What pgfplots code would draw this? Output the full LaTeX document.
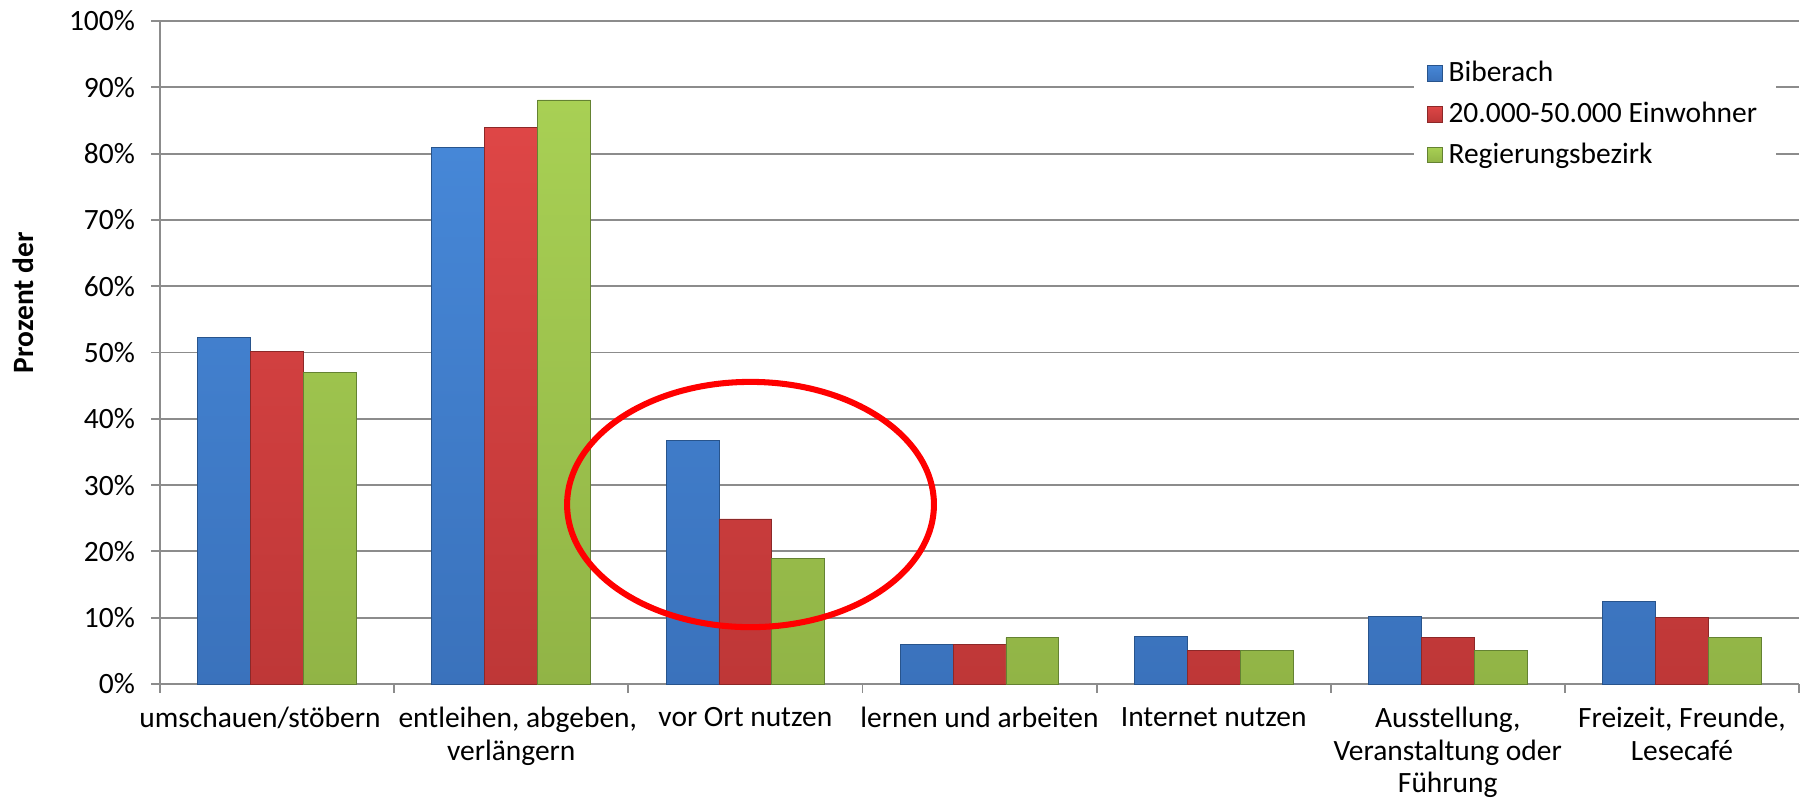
\documentclass[border=0pt]{standalone}
\usepackage{fontspec}
\setmainfont{Carlito}
\usepackage{pgfplots}
\pgfplotsset{compat=1.18}
\usetikzlibrary{calc}
\definecolor{bbluet}{RGB}{70,135,215}
\definecolor{bblueb}{RGB}{58,114,188}
\definecolor{bblued}{RGB}{40,84,140}
\definecolor{bredt}{RGB}{222,70,70}
\definecolor{bredb}{RGB}{190,55,55}
\definecolor{bredd}{RGB}{140,40,40}
\definecolor{bgrnt}{RGB}{168,208,84}
\definecolor{bgrnb}{RGB}{145,180,70}
\definecolor{bgrnd}{RGB}{100,130,50}
\definecolor{gridgray}{RGB}{140,140,140}
\begin{document}
\begin{tikzpicture}
\begin{axis}[
  scale only axis, width=622.8pt, height=251.9pt,
  ybar=0pt, bar width=20.1pt,
  xmin=-0.5, xmax=6.5, ymin=0, ymax=100,
  xtick={0,...,6},
  xticklabels={{\kern-13pt umschauen/stöbern},{entleihen, abgeben,\kern-5pt\\verlängern},{vor Ort nutzen},{lernen und arbeiten},{Internet nutzen},{Ausstellung,\\Veranstaltung oder\\Führung},{Freizeit, Freunde,\\Lesecafé}},
  minor xtick={-0.5,0.5,...,6.5},
  ytick={0,10,...,100},
  yticklabel={\pgfmathprintnumber{\tick}\%},
  /pgf/number format/assume math mode=true,
  axis x line*=bottom, axis y line*=left,
  ymajorgrids, grid style={gridgray, line width=0.7pt},
  tick align=outside, major tick length=3.4pt, minor tick length=3.4pt,
  major x tick style={draw=none},
  minor x tick style={gridgray, line width=0.7pt},
  major y tick style={gridgray, line width=0.7pt},
  axis line style={gridgray, line width=0.7pt},
  ticklabel style={font=\fontsize{11.2}{12.3}\selectfont},
  xticklabel style={align=center, yshift=-2pt},
  yticklabel style={xshift=-2.6pt},
  ylabel={Prozent der},
  ylabel style={font=\fontsize{11.2}{12.5}\selectfont\bfseries, at={(axis description cs:-0.0836,0.575)}, anchor=center, rotate=0},
  legend style={at={(0.7645,0.964)}, anchor=north west, draw=none, fill=white,
    font=\fontsize{11.2}{12.5}\selectfont, inner xsep=5pt, inner ysep=4pt, row sep=2.2pt,
    cells={anchor=west}},
  legend image code/.code={\fill[#1] (0pt,-3pt) rectangle (6pt,3pt);},
  clip=false,
]
\addplot[draw=bblued, line width=0.3pt, top color=bbluet, bottom color=bblueb]
  coordinates {(0,52.3)(1,80.9)(2,36.7)(3,6.0)(4,7.2)(5,10.2)(6,12.5)};
\addplot[draw=bredd, line width=0.3pt, top color=bredt, bottom color=bredb]
  coordinates {(0,50.1)(1,84.0)(2,24.9)(3,5.9)(4,5.0)(5,7.0)(6,10.1)};
\addplot[draw=bgrnd, line width=0.3pt, top color=bgrnt, bottom color=bgrnb]
  coordinates {(0,47.0)(1,88.1)(2,19.0)(3,7.0)(4,5.0)(5,5.0)(6,7.0)};
\legend{Biberach,20.000-50.000 Einwohner,Regierungsbezirk}
\draw[red, line width=2.3pt] (axis cs:2.022,27.07) ellipse [x radius=69.7pt, y radius=46.6pt];
\end{axis}
\pgfresetboundingbox
\path ($(current axis.south west)+(-60.8pt,-43.3pt)$) rectangle ($(current axis.north east)+(5.7pt,8pt)$);
\end{tikzpicture}
\end{document}
